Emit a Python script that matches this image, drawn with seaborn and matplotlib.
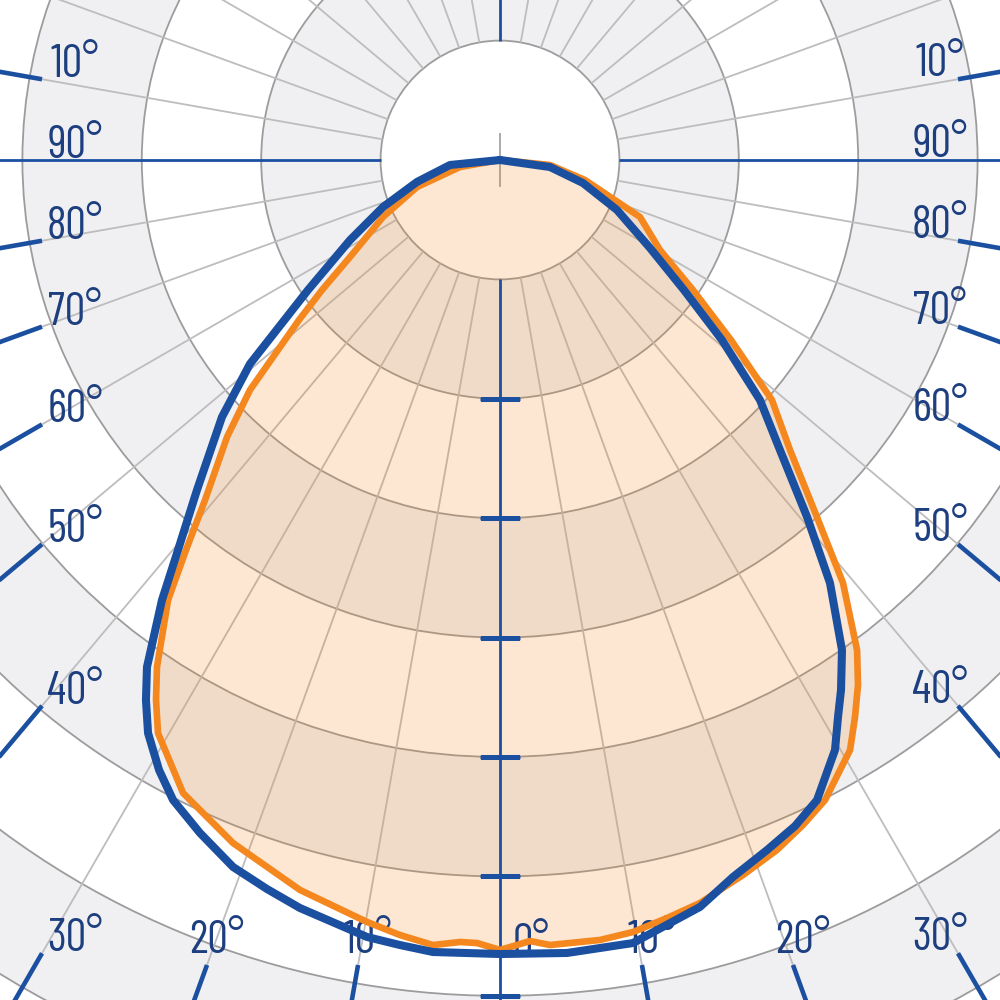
import numpy as np
import matplotlib
matplotlib.use("Agg")
import matplotlib.pyplot as plt
import seaborn as sns

# curva azul (graus a partir de 0° para baixo, positivo = direita) e intensidade
blue_deg = [-90, -84.3, -75.2, -68.1, -61.9, -55.9, -50.8, -47.25, -42.56, -39.54, -37.53,
            -34.85, -33.25, -31.56, -29.2, -27.06, -24.03, -20.69, -17.72, -14.97, -9.71,
            -7.26, -4.84, 0, 4.83, 9.64, 14.99, 18.0, 21.15, 23.89, 26.35, 29.59, 31.25,
            32.76, 34.91, 37.96, 40.70, 43.99, 47.29, 50.96, 54.75, 59.6, 66.86, 74.5,
            82.0, 90]
blue_r = [0, 42.1, 71.9, 105.6, 142.4, 194.2, 270.2, 317.1, 375.2, 423.6, 464.7,
          517.4, 540.8, 563.2, 585.3, 601.9, 617.1, 632.9, 641.0, 648.5, 660.2,
          662.8, 665.7, 665.0, 666.5, 665.2, 647.6, 631.4, 619.7, 610.1, 598.2, 568.2, 545.7,
          527.8, 500.5, 449.3, 394.4, 337.6, 296.3, 239.4, 188.7, 145.7, 106.6, 72.1,
          42.3, 0]

# curva laranja
orange_deg = [-90, -80.07, -71.98, -64.03, -57.11, -53.85, -51.48, -47.39, -44.58, -40.94,
              -38.84, -37.03, -34.08, -32.50, -30.83, -26.60, -21.35, -15.32, -9.90, -7.35,
              -4.88, -2.93, -1.68, 0, 1.24, 2.20, 3.64, 7.31, 9.78, 12.42, 15.07, 18.77,
              21.87, 24.5, 26.93, 30.68, 32.51, 34.29, 36.08, 39.04, 41.60, 45.0, 48.57,
              52.07, 56.03, 60.64, 67.85, 76.76, 84.29, 90]
orange_r = [0, 34.0, 73.1, 109.0, 149.6, 184.6, 215.2, 284.5, 325.7, 377.0,
            419.3, 461.6, 512.7, 536.2, 558.9, 592.9, 614.2, 633.9, 647.8, 654.5,
            659.9, 655.8, 656.1, 661.6, 657.6, 654.6, 658.8, 658.6, 656.1, 650.1, 644.4, 632.5,
            622.7, 612.0, 601.2, 574.6, 553.2, 532.2, 507.8, 456.1, 399.8, 343.5, 303.8,
            245.3, 194.9, 153.7, 126.6, 73.1, 42.1, 0]

# aneis e rotulos angulares
ring_values = [100, 200, 300, 400, 500, 600, 700, 800, 900]
band_bottoms = [100, 300, 500, 700]
axis_ticks = [200, 300, 400, 500, 600, 700]
label_deg = [-100, -90, -80, -70, -60, -50, -40, -30, -20, -10, 0,
             10, 20, 30, 40, 50, 60, 70, 80, 90, 100]
label_text = ["10°", "90°", "80°", "70°", "60°", "50°", "40°", "30°", "20°", "10°", "0°",
              "10°", "20°", "30°", "40°", "50°", "60°", "70°", "80°", "90°", "10°"]

BLUE = "#1b4fa0"
NAVY = "#1d3f80"
ORANGE = "#f5871f"
PX_PER_UNIT = 1.194
R_MAX = 900
EDGE_SIDE_PX = 458
EDGE_BOTTOM_PX = 805
LABEL_FONT = ["Barlow Condensed", "Roboto Condensed", "Oswald", "DejaVu Sans"]

sns.set_style("white")

fig = plt.figure(figsize=(10, 10), dpi=100)
fig.patch.set_facecolor("white")
rad_px = R_MAX * PX_PER_UNIT
size = 2 * rad_px / 1000
ax = fig.add_axes([0.5 - rad_px / 1000, 0.84 - rad_px / 1000, size, size], projection="polar")
ax.set_theta_zero_location("S")
ax.set_theta_direction(1)
ax.set_facecolor("white")
ax.spines["polar"].set_visible(False)
ax.set_axisbelow(True)

# faixas cinza alternadas e circulo branco central
ax.bar(0, 100, width=2 * np.pi, bottom=band_bottoms, color="#f0f0f3", lw=0, zorder=0.3)
ax.bar(0, 100, width=2 * np.pi, bottom=0, color="white", lw=0, zorder=0.35)

# aneis
ax.set_yticks(ring_values)
ax.set_yticklabels([])
ax.set_xticks([])
ax.yaxis.grid(True, color="#9c9c9c", lw=1.3)
ax.tick_params(length=0)

# raios a cada 10 graus
spokes = np.deg2rad([d for d in range(0, 360, 10) if d % 90])
ax.vlines(spokes, 100, R_MAX, color="#bdbdbd", lw=1.3, zorder=0.6)
ax.vlines([0, np.pi], 0, 23, color="#9c9c9c", lw=1.2, zorder=0.6)

# preenchimento da curva laranja
ax.fill(np.deg2rad(orange_deg), orange_r, color=ORANGE, alpha=0.2, lw=0, zorder=1)

# eixos azuis
ax.vlines(np.deg2rad([0, 90, 180, 270]), 100, R_MAX, color=BLUE, lw=2.0, zorder=2)
ax.plot(np.zeros(len(axis_ticks)), axis_ticks, ls="", marker="_", ms=29, mew=2.4,
        color=BLUE, zorder=2)

# marcas externas e rotulos
for deg, txt in zip(label_deg, label_text):
    t = np.deg2rad(deg)
    side = EDGE_SIDE_PX / abs(np.sin(t)) if abs(np.sin(t)) > 1e-6 else np.inf
    bottom = EDGE_BOTTOM_PX / np.cos(t) if np.cos(t) > 1e-6 else np.inf
    r_in = min(side, bottom) / PX_PER_UNIT
    if deg % 90:
        ax.vlines(t, r_in, R_MAX, color=BLUE, lw=3.3, zorder=2)
    if deg == 0:
        off = (31, 21)
    elif bottom < side:
        off = (10, 24)
    elif deg < 0:
        off = (33, 14)
    else:
        off = (-18, 15)
    ax.annotate(txt, xy=(t, r_in), xytext=off, textcoords="offset pixels",
                ha="center", va="center", fontsize=33, color=NAVY,
                family=LABEL_FONT, zorder=2.5)

# curvas
sns.lineplot(x=np.deg2rad(orange_deg), y=orange_r, sort=False, estimator=None,
             color=ORANGE, lw=4.8, ax=ax, zorder=3)
sns.lineplot(x=np.deg2rad(blue_deg), y=blue_r, sort=False, estimator=None,
             color=BLUE, lw=5.8, ax=ax, zorder=3.5)

ax.set_xlabel("")
ax.set_ylabel("")
ax.set_ylim(0, R_MAX)

fig.savefig("out.png", dpi=100)
